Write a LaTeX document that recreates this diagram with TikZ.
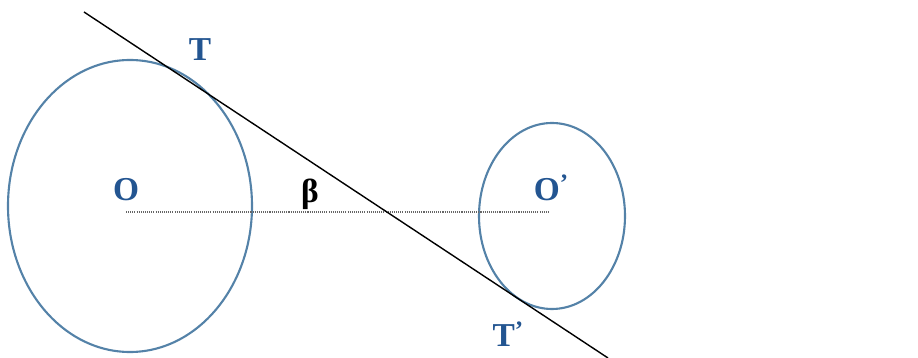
\documentclass[tikz,border=0pt]{standalone}
\usepackage{graphicx}
\usepackage{fontspec}
\setmainfont{Liberation Serif}
\definecolor{rim}{RGB}{84,130,168}
\definecolor{lbl}{RGB}{35,85,145}
\newcommand{\prm}{\raisebox{0.25em}{\scalebox{0.75}{’}}}

\begin{document}
\begin{tikzpicture}[x=0.01cm,y=-0.01cm,
    circ/.style={rim, line width=0.6pt},
    lab/.style={lbl, font=\fontsize{9.5}{11}\selectfont\bfseries, inner sep=0pt}]
        \useasboundingbox (0,0) rectangle (918,358);
        \coordinate (c) at (130,206);
        \coordinate (cp) at (552,216);
        \coordinate (o) at (126,212);
        \coordinate (op) at (550,212);
        \coordinate (t1) at (84,12);
        \coordinate (t2) at (608,358);
        \draw[circ] (c) ellipse (122 and 146);
        \draw[circ] (cp) ellipse (73 and 93);
        \draw[black!60, line width=0.35pt, dash pattern=on 0.3pt off 0.3pt] (o) -- (op);
        \draw[black, line width=0.4pt] (t1) -- (t2);
        \node[lab] (T) at (200,50) {T};
        \node[lab] (O) at (126,190) {O};
        \node[lab, black] (beta) at (310,194) {β};
        \node[lab] (Op) at (551,188) {O\prm};
        \node[lab] (Tp) at (508,334) {T\prm};
    \end{tikzpicture}
\end{document}
